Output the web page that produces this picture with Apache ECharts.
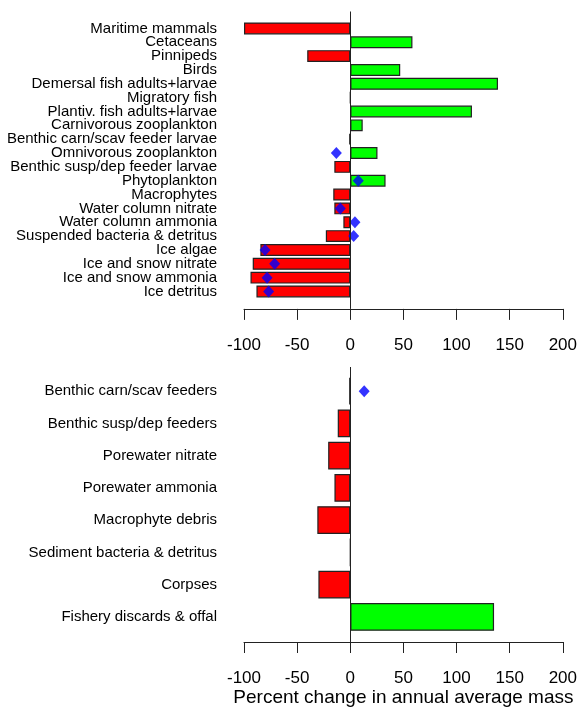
<!DOCTYPE html>
<html>
<head>
<meta charset="utf-8">
<script src="https://cdn.jsdelivr.net/npm/echarts@6/dist/echarts.min.js"></script>
<style>
  html, body { margin: 0; padding: 0; background: #fff; }
  #chart { width: 580px; height: 711px; }
</style>
</head>
<body>
<div id="chart"></div>
<script>
// Pelagic / ice compartments (upper panel)
const topCategories = [
  'Maritime mammals', 'Cetaceans', 'Pinnipeds', 'Birds',
  'Demersal fish adults+larvae', 'Migratory fish', 'Plantiv. fish adults+larvae',
  'Carnivorous zooplankton', 'Benthic carn/scav feeder larvae', 'Omnivorous zooplankton',
  'Benthic susp/dep feeder larvae', 'Phytoplankton', 'Macrophytes',
  'Water column nitrate', 'Water column ammonia', 'Suspended bacteria & detritus',
  'Ice algae', 'Ice and snow nitrate', 'Ice and snow ammonia', 'Ice detritus'
];
// Percent change in annual average mass (bars)
const topChange = [
  -100, 58.5, -40.5, 47,
  139, 0, 114.5,
  11.7, -1, 25.6,
  -15, 33.2, -16,
  -15, -6.5, -23,
  -84.6, -91.8, -93.9, -88.3
];
// Comparison values (diamonds); null where not available
const topReference = [
  null, null, null, null,
  null, null, null,
  null, null, -13.1,
  null, 7.5, null,
  -9.4, 4.4, 3.2,
  -80.2, -71.2, -78.3, -76.8
];

// Seabed compartments (lower panel)
const bottomCategories = [
  'Benthic carn/scav feeders', 'Benthic susp/dep feeders', 'Porewater nitrate',
  'Porewater ammonia', 'Macrophyte debris', 'Sediment bacteria & detritus',
  'Corpses', 'Fishery discards & offal'
];
const bottomChange = [-1, -11.8, -20.8, -14.9, -31, 0, -30, 135.3];
const bottomReference = [13.1, null, null, null, null, null, null, null];

// Shared value-axis ticks
const axisMin = -100;
const axisMax = 200;
const axisStep = 50;
const axisTitle = 'Percent change in annual average mass';

const FONT = '"Liberation Sans", Arial, Helvetica, sans-serif';
const RED = '#ff0000';
const GREEN = '#00ff00';
const BLUE = '#0000ff';
const EDGE = '#222';

// Panel geometry
const GRID_LEFT = 244;
const GRID_RIGHT = 15.7;
const TOP_GRID = { top: 21.5, height: 276.9, axisOffset: 10.5, lineExtra: 10 };
const BOT_GRID = { top: 375, height: 258, axisOffset: 9, lineExtra: 8 };

const chart = echarts.init(document.getElementById('chart'), null, { renderer: 'canvas' });

function valueAxis(gridIndex, offset, withTitle) {
  const ax = {
    type: 'value',
    gridIndex: gridIndex,
    min: axisMin,
    max: axisMax,
    interval: axisStep,
    position: 'bottom',
    offset: offset,
    axisLine: { show: true, onZero: false, lineStyle: { color: EDGE, width: 1 } },
    axisTick: { show: true, inside: false, length: 11, lineStyle: { color: EDGE, width: 1 } },
    axisLabel: { color: '#000', fontFamily: FONT, fontSize: 17, margin: 28 },
    splitLine: { show: false }
  };
  if (withTitle) {
    ax.name = axisTitle;
    ax.nameLocation = 'middle';
    ax.nameGap = 46;
    ax.nameTextStyle = { color: '#000', fontFamily: FONT, fontSize: 19 };
  }
  return ax;
}

function categoryAxis(gridIndex, cats) {
  return {
    type: 'category',
    gridIndex: gridIndex,
    data: cats,
    inverse: true,
    axisLine: { show: false, onZero: false },
    axisTick: { show: false },
    axisLabel: { interval: 0, color: '#000', fontFamily: FONT, fontSize: 15, margin: 27 },
    splitLine: { show: false }
  };
}

function barSeries(idx, values) {
  return {
    type: 'bar',
    xAxisIndex: idx,
    yAxisIndex: idx,
    data: values,
    barCategoryGap: '14%',
    itemStyle: {
      color: p => (p.value < 0 ? RED : GREEN),
      borderColor: EDGE,
      borderWidth: 1.2
    },
    silent: true,
    animation: false
  };
}

function pointSeries(idx, values) {
  return {
    type: 'scatter',
    xAxisIndex: idx,
    yAxisIndex: idx,
    data: values,
    symbol: 'diamond',
    symbolSize: [11, 12],
    itemStyle: { color: BLUE },
    z: 5,
    silent: true,
    animation: false
  };
}

chart.setOption({
  animation: false,
  textStyle: { fontFamily: FONT },
  grid: [
    { left: GRID_LEFT, right: GRID_RIGHT, top: TOP_GRID.top, height: TOP_GRID.height },
    { left: GRID_LEFT, right: GRID_RIGHT, top: BOT_GRID.top, height: BOT_GRID.height }
  ],
  xAxis: [valueAxis(0, TOP_GRID.axisOffset, false), valueAxis(1, BOT_GRID.axisOffset, true)],
  yAxis: [categoryAxis(0, topCategories), categoryAxis(1, bottomCategories)],
  series: [
    barSeries(0, topChange),
    pointSeries(0, topReference),
    barSeries(1, bottomChange),
    pointSeries(1, bottomReference)
  ]
});

// Vertical zero reference line for each panel, running from just above
// the first bar down to the value axis line.
function zeroLine(axisIndex, g) {
  const x = Math.round(chart.convertToPixel({ xAxisIndex: axisIndex }, 0)) + 0.5;
  const y1 = g.top - g.lineExtra;
  const y2 = g.top + g.height + g.axisOffset;
  return {
    type: 'line',
    shape: { x1: x, y1: y1, x2: x, y2: y2 },
    style: { stroke: EDGE, lineWidth: 1 },
    z: 10,
    silent: true
  };
}

chart.setOption({
  graphic: [zeroLine(0, TOP_GRID), zeroLine(1, BOT_GRID)]
});
</script>
</body>
</html>
